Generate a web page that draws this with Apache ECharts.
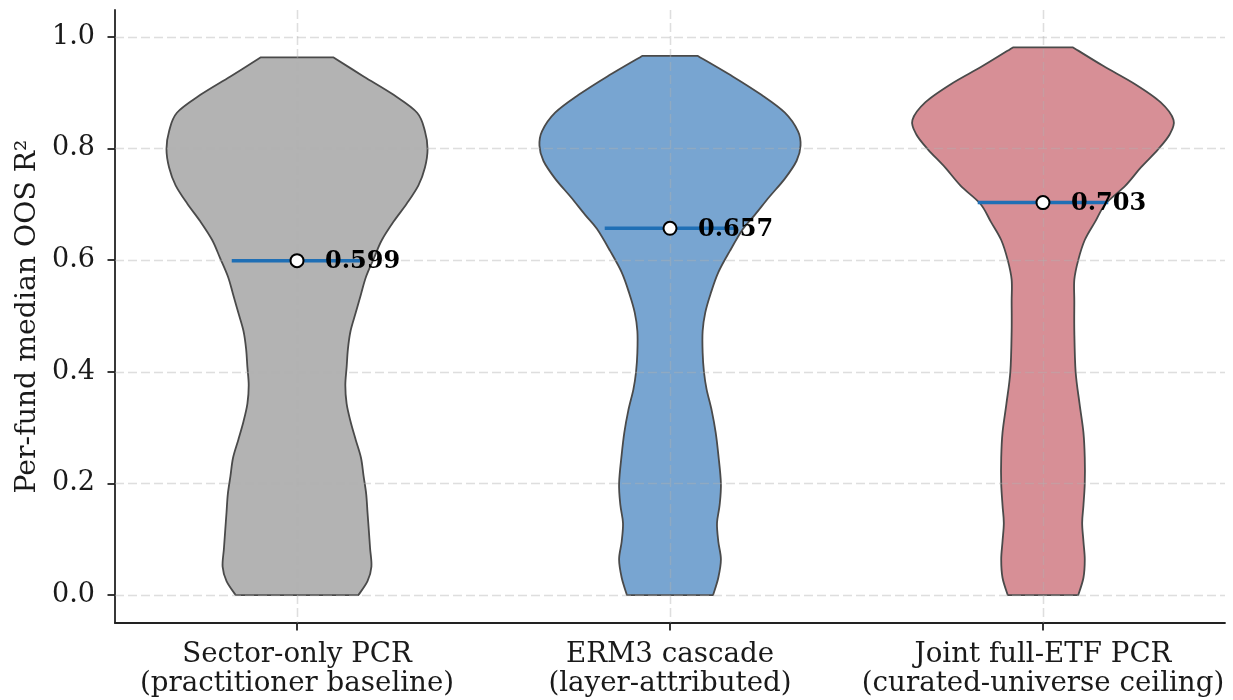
<!DOCTYPE html>
<html>
<head>
<meta charset="utf-8">
<title>Per-fund median OOS R²</title>
<script src="https://cdn.jsdelivr.net/npm/echarts@6/dist/echarts.min.js"></script>
<style>
  html, body { margin: 0; padding: 0; background: #fff; }
  #chart { width: 1233px; height: 700px; }
</style>
</head>
<body>
<div id="chart"></div>
<script>
// Model labels (two lines each) and per-fund median R² of each model
const categories = [
  'Sector-only PCR\n(practitioner baseline)',
  'ERM3 cascade\n(layer-attributed)',
  'Joint full-ETF PCR\n(curated-universe ceiling)'
];
const medians = [0.599, 0.657, 0.703];
const yTicks = [0.0, 0.2, 0.4, 0.6, 0.8, 1.0];

// Kernel density profiles (R² level, density relative to each violin's peak)
const sectorY = [0.0, 0.025, 0.051, 0.083, 0.116, 0.148, 0.181, 0.213, 0.246, 0.278, 0.311, 0.343, 0.376, 0.408, 0.441, 0.473, 0.506, 0.539, 0.571, 0.604, 0.636, 0.669, 0.701, 0.734, 0.766, 0.799, 0.831, 0.864, 0.896, 0.929, 0.963];
const sectorDensity = [0.47, 0.54, 0.57, 0.56, 0.55, 0.54, 0.53, 0.51, 0.49, 0.45, 0.41, 0.38, 0.37, 0.38, 0.39, 0.41, 0.45, 0.49, 0.53, 0.59, 0.65, 0.74, 0.84, 0.93, 0.98, 1.0, 0.98, 0.92, 0.74, 0.51, 0.28];

const erm3Y = [0.0, 0.031, 0.064, 0.096, 0.129, 0.161, 0.2, 0.252, 0.291, 0.330, 0.369, 0.4, 0.434, 0.473, 0.506, 0.539, 0.578, 0.617, 0.656, 0.681, 0.713, 0.746, 0.778, 0.805, 0.831, 0.864, 0.896, 0.929, 0.966];
const erm3Density = [0.33, 0.37, 0.39, 0.37, 0.36, 0.38, 0.39, 0.37, 0.35, 0.32, 0.28, 0.26, 0.25, 0.25, 0.27, 0.31, 0.37, 0.46, 0.56, 0.65, 0.76, 0.88, 0.97, 1.0, 0.98, 0.88, 0.70, 0.48, 0.21];

const jointY = [0.0, 0.031, 0.064, 0.096, 0.129, 0.161, 0.2, 0.246, 0.291, 0.343, 0.4, 0.473, 0.526, 0.565, 0.6, 0.636, 0.669, 0.701, 0.733, 0.766, 0.798, 0.825, 0.851, 0.883, 0.916, 0.948, 0.981];
const jointDensity = [0.27, 0.31, 0.32, 0.31, 0.30, 0.31, 0.32, 0.32, 0.31, 0.28, 0.25, 0.24, 0.24, 0.24, 0.27, 0.32, 0.40, 0.48, 0.63, 0.75, 0.88, 0.97, 1.0, 0.90, 0.70, 0.46, 0.23];

const profiles = [
  { y: sectorY, d: sectorDensity },
  { y: erm3Y, d: erm3Density },
  { y: jointY, d: jointDensity }
];

// Drawing styles
const bodyColors = ['rgba(158,158,158,0.78)', 'rgba(82,140,196,0.78)', 'rgba(204,112,120,0.78)'];
const HALF_WIDTH = 0.35;       // peak half-width of a violin, in x units
const MEDIAN_HALF = 0.175;     // half-length of the median bar, in x units
const FONT = '"DejaVu Serif", serif';
const AXIS_COLOR = '#222';
const TEXT_COLOR = '#1a1a1a';
const GRID_STYLE = { stroke: 'rgba(176,176,176,0.42)', lineWidth: 1.5, lineDash: [9, 4] };

// Smooth open curve through pixel points (Catmull-Rom converted to cubic Béziers)
function curveThrough(pts) {
  let d = '';
  const n = pts.length;
  for (let k = 0; k < n - 1; k++) {
    const p0 = pts[Math.max(k - 1, 0)];
    const p1 = pts[k];
    const p2 = pts[k + 1];
    const p3 = pts[Math.min(k + 2, n - 1)];
    const c1x = p1[0] + (p2[0] - p0[0]) / 6, c1y = p1[1] + (p2[1] - p0[1]) / 6;
    const c2x = p2[0] - (p3[0] - p1[0]) / 6, c2y = p2[1] - (p3[1] - p1[1]) / 6;
    d += ' C' + c1x.toFixed(2) + ' ' + c1y.toFixed(2) + ' ' + c2x.toFixed(2) + ' ' +
         c2y.toFixed(2) + ' ' + p2[0].toFixed(2) + ' ' + p2[1].toFixed(2);
  }
  return d;
}

function renderViolin(params, api) {
  const i = params.dataIndex;
  const p = profiles[i];
  const left = [], right = [];
  for (let k = 0; k < p.y.length; k++) {
    left.push(api.coord([i - HALF_WIDTH * p.d[k], p.y[k]]));
    right.push(api.coord([i + HALF_WIDTH * p.d[k], p.y[k]]));
  }
  const rightDown = right.slice().reverse();
  let d = 'M' + left[0][0].toFixed(2) + ' ' + left[0][1].toFixed(2);
  d += curveThrough(left);
  d += ' L' + rightDown[0][0].toFixed(2) + ' ' + rightDown[0][1].toFixed(2);
  d += curveThrough(rightDown);
  d += ' Z';
  return {
    type: 'path',
    shape: { pathData: d },
    style: { fill: bodyColors[i], stroke: '#4a4a4a', lineWidth: 1.8, lineJoin: 'round' }
  };
}

// Dashed grid at y ticks and category centres, laid over the violin bodies
function renderGrid(params, api) {
  const cs = params.coordSys;
  const children = [];
  yTicks.forEach(v => {
    const y = Math.round(api.coord([0, v])[1]) + 0.5;
    children.push({ type: 'line', shape: { x1: cs.x, y1: y, x2: cs.x + cs.width, y2: y }, style: GRID_STYLE });
  });
  categories.forEach((c, i) => {
    const x = Math.round(api.coord([i, 0])[0]) + 0.5;
    children.push({ type: 'line', shape: { x1: x, y1: cs.y, x2: x, y2: cs.y + cs.height }, style: GRID_STYLE });
  });
  return { type: 'group', children: children };
}

function renderMedian(params, api) {
  const i = params.dataIndex;
  const m = medians[i];
  const a = api.coord([i - MEDIAN_HALF, m]);
  const b = api.coord([i + MEDIAN_HALF, m]);
  const c = api.coord([i, m]);
  return {
    type: 'group',
    children: [
      { type: 'line', shape: { x1: a[0], y1: a[1], x2: b[0], y2: b[1] },
        style: { stroke: '#1f6fb5', lineWidth: 3.5 } },
      { type: 'circle', shape: { cx: c[0], cy: c[1], r: 6.5 },
        style: { fill: '#ffffff', stroke: '#000000', lineWidth: 2 }, z2: 5 },
      { type: 'text', x: c[0] + 28, y: c[1] + 1, z2: 6,
        style: { text: m.toFixed(3), fill: '#000', font: 'bold 24px ' + FONT,
                 align: 'left', verticalAlign: 'middle' } }
    ]
  };
}

const chart = echarts.init(document.getElementById('chart'), null, { renderer: 'canvas' });

chart.setOption({
  animation: false,
  backgroundColor: '#ffffff',
  grid: { left: 115, right: 8, top: 10, bottom: 77, containLabel: false },
  xAxis: {
    type: 'value',
    min: -0.488,
    max: 2.488,
    axisLine: { show: true, onZero: false, lineStyle: { color: AXIS_COLOR, width: 1.8 } },
    axisTick: { show: true, customValues: [0, 1, 2], length: 7.5, lineStyle: { color: AXIS_COLOR, width: 1.8 } },
    axisLabel: {
      customValues: [0, 1, 2],
      formatter: v => categories[Math.round(v)],
      fontFamily: 'DejaVu Serif', fontSize: 27.7, color: TEXT_COLOR, margin: 18, lineHeight: 28.5
    },
    splitLine: { show: false }
  },
  yAxis: {
    type: 'value',
    min: -0.05,
    max: 1.048,
    name: 'Per-fund median OOS R²',
    nameLocation: 'middle',
    nameGap: 67,
    nameTextStyle: { fontFamily: 'DejaVu Serif', fontSize: 28.3, color: TEXT_COLOR },
    axisLine: { show: true, onZero: false, lineStyle: { color: AXIS_COLOR, width: 1.8 } },
    axisTick: { show: true, customValues: yTicks, length: 7.5, lineStyle: { color: AXIS_COLOR, width: 1.8 } },
    axisLabel: {
      customValues: yTicks,
      formatter: v => v.toFixed(1),
      fontFamily: 'DejaVu Serif', fontSize: 27, color: TEXT_COLOR, margin: 20
    },
    splitLine: { show: false }
  },
  series: [
    {
      type: 'custom',
      z: 2,
      renderItem: renderViolin,
      data: categories.map((c, i) => [i, medians[i]]),
      clip: false
    },
    {
      type: 'custom',
      z: 3,
      silent: true,
      renderItem: renderGrid,
      data: [[0, 0]]
    },
    {
      type: 'custom',
      z: 4,
      renderItem: renderMedian,
      data: categories.map((c, i) => [i, medians[i]]),
      clip: false
    }
  ]
});
</script>
</body>
</html>
